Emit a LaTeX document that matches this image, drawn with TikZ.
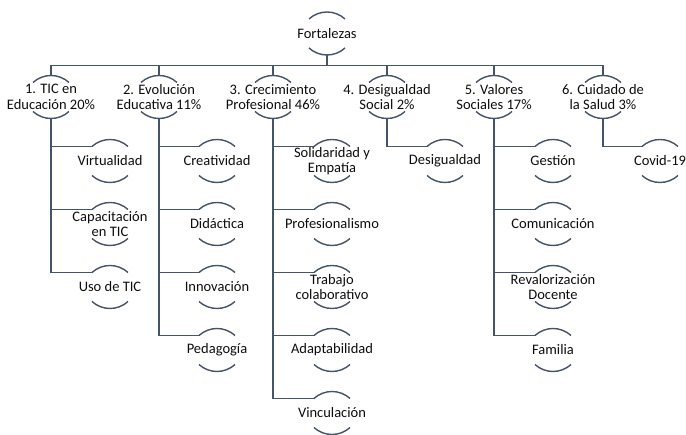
\documentclass[tikz,border=0pt]{standalone}
\usepackage{fontspec}
\setmainfont{Carlito}
\usetikzlibrary{calc}
\definecolor{lineC}{HTML}{44546A}
\definecolor{txtC}{HTML}{0D0D0D}
\tikzset{
  lbl/.style={align=center,inner sep=0pt,text=txtC,font=\fontsize{14.5}{15.5}\selectfont},
  arcline/.style={draw=lineC,line width=1.4pt},
  conn/.style={draw=lineC,line width=1.8pt}
}
\newcommand{\hnode}[4]{%
  \node[lbl] (#1) at (#2,-#3) {#4};
  \draw[arcline] ($(#1.center)+(-18pt,14.5pt)$) arc[start angle=132.5,end angle=47.5,radius=26.64pt];
  \draw[arcline] ($(#1.center)+(-18pt,-14.5pt)$) arc[start angle=227.5,end angle=312.5,radius=26.64pt];
  \coordinate (#1-t) at ($(#1.center)+(0pt,21.5pt)$);
  \coordinate (#1-b) at ($(#1.center)+(0pt,-21.5pt)$);
  \coordinate (#1-l) at ($(#1.center)+(-18pt,14.5pt)$);
}
\begin{document}
\begin{tikzpicture}[x=1pt,y=1pt]
\useasboundingbox (0,0) rectangle (686,-435);
% root
\hnode{root}{327}{33.5}{Fortalezas}
% level 1
\hnode{n1}{51}{97}{1. TIC en\\Educación 20\%}
\hnode{n2}{159}{97}{2. Evolución\\Educativa 11\%}
\hnode{n3}{273}{97}{3. Crecimiento\\Profesional 46\%}
\hnode{n4}{387}{97}{4. Desigualdad\\Social 2\%}
\hnode{n5}{494}{97}{5. Valores\\Sociales 17\%}
\hnode{n6}{603}{97}{6. Cuidado de\\la Salud 3\%}
% children of 1
\hnode{a1}{110}{161}{Virtualidad}
\hnode{a2}{110}{224}{Capacitación\\en TIC}
\hnode{a3}{110}{287}{Uso de TIC}
% children of 2
\hnode{b1}{217}{161}{Creatividad}
\hnode{b2}{217}{224}{Didáctica}
\hnode{b3}{217}{287}{Innovación}
\hnode{b4}{217}{350}{Pedagogía}
% children of 3
\hnode{c1}{332}{161}{Solidaridad y\\Empatía}
\hnode{c2}{332}{224}{Profesionalismo}
\hnode{c3}{332}{287}{Trabajo\\colaborativo}
\hnode{c4}{332}{350}{Adaptabilidad}
\hnode{c5}{332}{413}{Vinculación}
% children of 4
\hnode{d1}{445}{161}{Desigualdad}
% children of 5
\hnode{e1}{553}{161}{Gestión}
\hnode{e2}{553}{224}{Comunicación}
\hnode{e3}{553}{287}{Revalorización\\Docente}
\hnode{e4}{553}{350}{Familia}
% children of 6
\hnode{f1}{660}{161}{Covid-19}
% connectors
\coordinate (bar) at (327,-65.5);
\draw[conn] (root-b) -- (bar);
\draw[conn] (n1-t) |- (bar) -| (n6-t);
\foreach \n in {n2,n3,n4,n5} {\draw[conn] (\n-t) -- (\n-t |- bar);}
\foreach \c in {a1,a2,a3} {\draw[conn] (n1-b) |- (\c-l);}
\foreach \c in {b1,b2,b3,b4} {\draw[conn] (n2-b) |- (\c-l);}
\foreach \c in {c1,c2,c3,c4,c5} {\draw[conn] (n3-b) |- (\c-l);}
\foreach \c in {d1} {\draw[conn] (n4-b) |- (\c-l);}
\foreach \c in {e1,e2,e3,e4} {\draw[conn] (n5-b) |- (\c-l);}
\foreach \c in {f1} {\draw[conn] (n6-b) |- (\c-l);}
\end{tikzpicture}
\end{document}
